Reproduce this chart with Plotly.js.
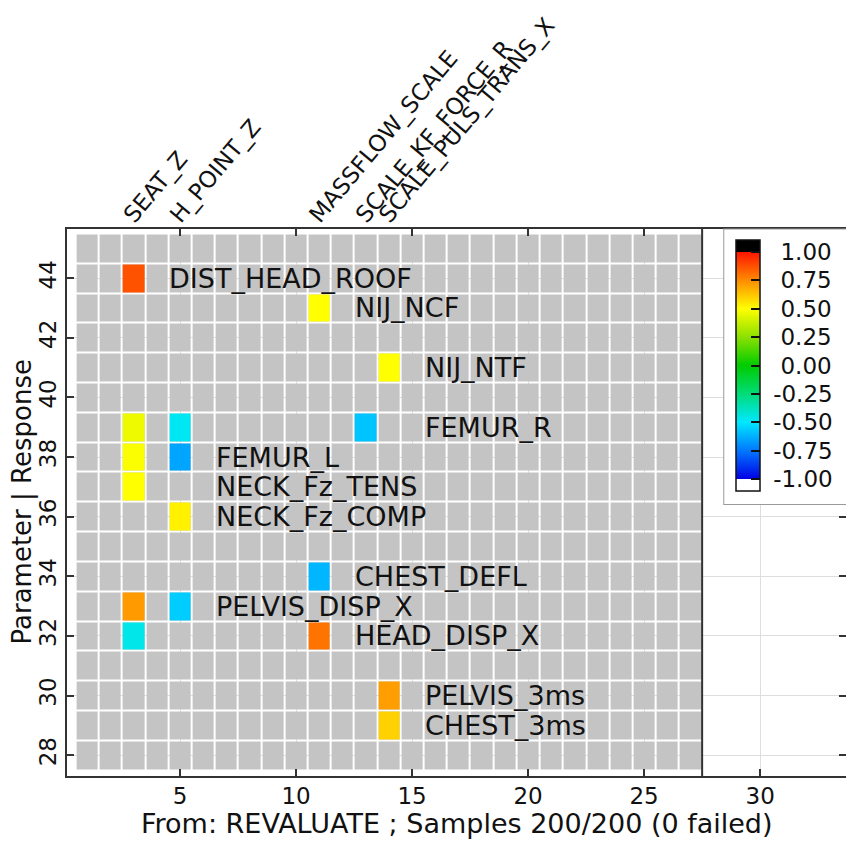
<!DOCTYPE html>
<html>
<head>
<meta charset="utf-8">
<script src="https://cdn.plot.ly/plotly-3.0.1.min.js"></script>
<style>html,body{margin:0;padding:0;background:#fff;}#chart{width:846px;height:843px;}</style>
</head>
<body>
<div id="chart"></div>
<script>
// Parameters (top axis categories) and their column index
const paramNames = ['SEAT_Z', 'H_POINT_Z', 'MASSFLOW_SCALE', 'SCALE_KF_FORCE_R', 'SCALE_PULS_TRANS_X'];
const paramCols  = [3, 5, 11, 13, 14];

// Responses (row labels) with row index and label start position
const responseNames = ['DIST_HEAD_ROOF', 'NIJ_NCF', 'NIJ_NTF', 'FEMUR_R', 'FEMUR_L', 'NECK_Fz_TENS',
                       'NECK_Fz_COMP', 'CHEST_DEFL', 'PELVIS_DISP_X', 'HEAD_DISP_X', 'PELVIS_3ms', 'CHEST_3ms'];
const responseRows  = [44, 43, 41, 39, 38, 37, 36, 34, 33, 32, 30, 29];
const responseLabelX = [4.45, 12.45, 15.45, 15.45, 6.45, 6.45, 6.45, 12.45, 6.45, 12.45, 15.45, 15.45];

// Significant correlation cells
const cellCol  = [3, 11, 14, 3, 5, 13, 3, 5, 3, 5, 11, 3, 5, 3, 11, 14, 14];
const cellRow  = [44, 43, 41, 39, 39, 39, 38, 38, 37, 36, 34, 33, 33, 32, 32, 30, 29];
const cellCorr = [0.87, 0.5, 0.5, 0.46, -0.48, -0.58, 0.49, -0.65, 0.5, 0.53, -0.61, 0.72, -0.56, -0.46, 0.8, 0.71, 0.6];

// Grid extent
const nCols = 27;
const rowMin = 28, rowMax = 45;

// Axis titles
const xTitle = 'From: REVALUATE ; Samples 200/200 (0 failed)';
const yTitle = 'Parameter | Response';

// Colorbar ticks
const cbTickVals = [-1, -0.75, -0.5, -0.25, 0, 0.25, 0.5, 0.75, 1];

// ---- build matrices ----
const xs = []; for (let i = 1; i <= nCols; i++) xs.push(i);
const ys = []; for (let j = rowMin; j <= rowMax; j++) ys.push(j);
const zBg = ys.map(() => xs.map(() => 0));
const zData = ys.map(() => xs.map(() => null));
cellCol.forEach((c, k) => { zData[cellRow[k] - rowMin][c - 1] = cellCorr[k]; });

const zLim = 1.106;
const f = v => (v + zLim) / (2 * zLim);
const colorscale = [
  [0, '#ffffff'], [f(-1) - 0.0005, '#ffffff'],
  [f(-1), '#0000e6'],
  [f(-0.75), '#0078ff'],
  [f(-0.5), '#00e8ff'],
  [f(-0.25), '#00dc78'],
  [f(0), '#00cc00'],
  [f(0.25), '#8ce000'],
  [f(0.5), '#ffff00'],
  [f(0.75), '#ff8c00'],
  [f(1), '#ff1400'],
  [f(1) + 0.0005, '#000000'], [1, '#000000']
];

const FONT = 'DejaVu Sans, Verdana, sans-serif';
const TXT = '#111111';

const traces = [
  {
    type: 'heatmap', x: xs, y: ys, z: zBg,
    colorscale: [[0, '#c4c4c4'], [1, '#c4c4c4']], showscale: false,
    xgap: 2, ygap: 2, hoverinfo: 'skip'
  },
  {
    type: 'heatmap', x: xs, y: ys, z: zData,
    colorscale: colorscale, zmin: -zLim, zmax: zLim,
    xgap: 2, ygap: 2, hoverongaps: false,
    colorbar: {
      x: 0.8447, xanchor: 'left', xref: 'paper',
      y: 1, yanchor: 'top', yref: 'paper',
      len: 273, lenmode: 'pixels', thickness: 24, thicknessmode: 'pixels',
      xpad: 11, ypad: 11,
      bgcolor: '#ffffff', bordercolor: '#9a9a9a', borderwidth: 1,
      outlinecolor: '#111', outlinewidth: 1.5,
      tickvals: cbTickVals,
      ticktext: cbTickVals.map(v => '\u00a0' + (v >= 0 ? '\u00a0' : '') + v.toFixed(2)),
      ticks: 'inside', ticklen: 9, tickwidth: 2, tickcolor: '#111',
      tickfont: { family: FONT, size: 23, color: TXT }
    }
  },
  // invisible trace to activate top axis
  { type: 'scatter', x: [paramCols[0]], y: [rowMin], xaxis: 'x2', yaxis: 'y', mode: 'markers',
    marker: { opacity: 0 }, hoverinfo: 'skip', showlegend: false }
];

const annotations = responseNames.map((name, i) => ({
  x: responseLabelX[i], y: responseRows[i], xref: 'x', yref: 'y',
  text: name, showarrow: false, xanchor: 'left', yanchor: 'middle',
  font: { family: FONT, size: 27, color: TXT }
}));
annotations.push({
  x: 0.5, y: 0, xref: 'paper', yref: 'paper', yshift: -47,
  text: xTitle, showarrow: false, xanchor: 'center', yanchor: 'middle', borderpad: 0,
  font: { family: FONT, size: 27, color: TXT }
});
annotations.push({
  x: 0, y: 0.5, xref: 'paper', yref: 'paper', xshift: -45,
  text: yTitle, showarrow: false, xanchor: 'center', yanchor: 'middle', textangle: -90,
  font: { family: FONT, size: 26, color: TXT }
});

const xRange = [0.13, 33.7];

const layout = {
  width: 846, height: 843,
  margin: { l: 67, r: 0, t: 229, b: 67, pad: 0, autoexpand: false },
  paper_bgcolor: '#ffffff', plot_bgcolor: '#ffffff',
  font: { family: FONT, color: TXT },
  showlegend: false,
  xaxis: {
    range: xRange, tick0: 0, dtick: 5, ticks: 'inside', ticklen: 7, tickwidth: 2, tickcolor: '#333',
    showline: true, linecolor: '#333', linewidth: 2, mirror: 'ticks',
    showgrid: true, gridcolor: '#dedede', gridwidth: 1, zeroline: false,
    ticklabelstandoff: -2,
    tickfont: { family: FONT, size: 23, color: TXT },
    automargin: false
  },
  xaxis2: {
    overlaying: 'x', side: 'top', range: xRange,
    tickmode: 'array', tickvals: paramCols, ticktext: paramNames,
    tickangle: -50, ticks: '', showgrid: false, showline: false, zeroline: false,
    ticklabelshift: -8, ticklabelstandoff: -5,
    tickfont: { family: FONT, size: 23, color: TXT }, automargin: false
  },
  yaxis: {
    range: [27.3, 45.65], tick0: 0, dtick: 2, ticks: 'inside', ticklen: 7, tickwidth: 2, tickcolor: '#333',
    showline: true, linecolor: '#333', linewidth: 2, mirror: 'ticks',
    showgrid: true, gridcolor: '#dedede', gridwidth: 1, zeroline: false,
    tickangle: -90,
    tickfont: { family: FONT, size: 23, color: TXT },
    automargin: false
  },
  shapes: [
    { type: 'line', xref: 'x', yref: 'paper', x0: nCols + 0.5, x1: nCols + 0.5, y0: 0, y1: 1,
      line: { color: '#333', width: 2 } }
  ],
  annotations: annotations
};

Plotly.newPlot('chart', traces, layout, { staticPlot: true, displayModeBar: false });
</script>
</body>
</html>
